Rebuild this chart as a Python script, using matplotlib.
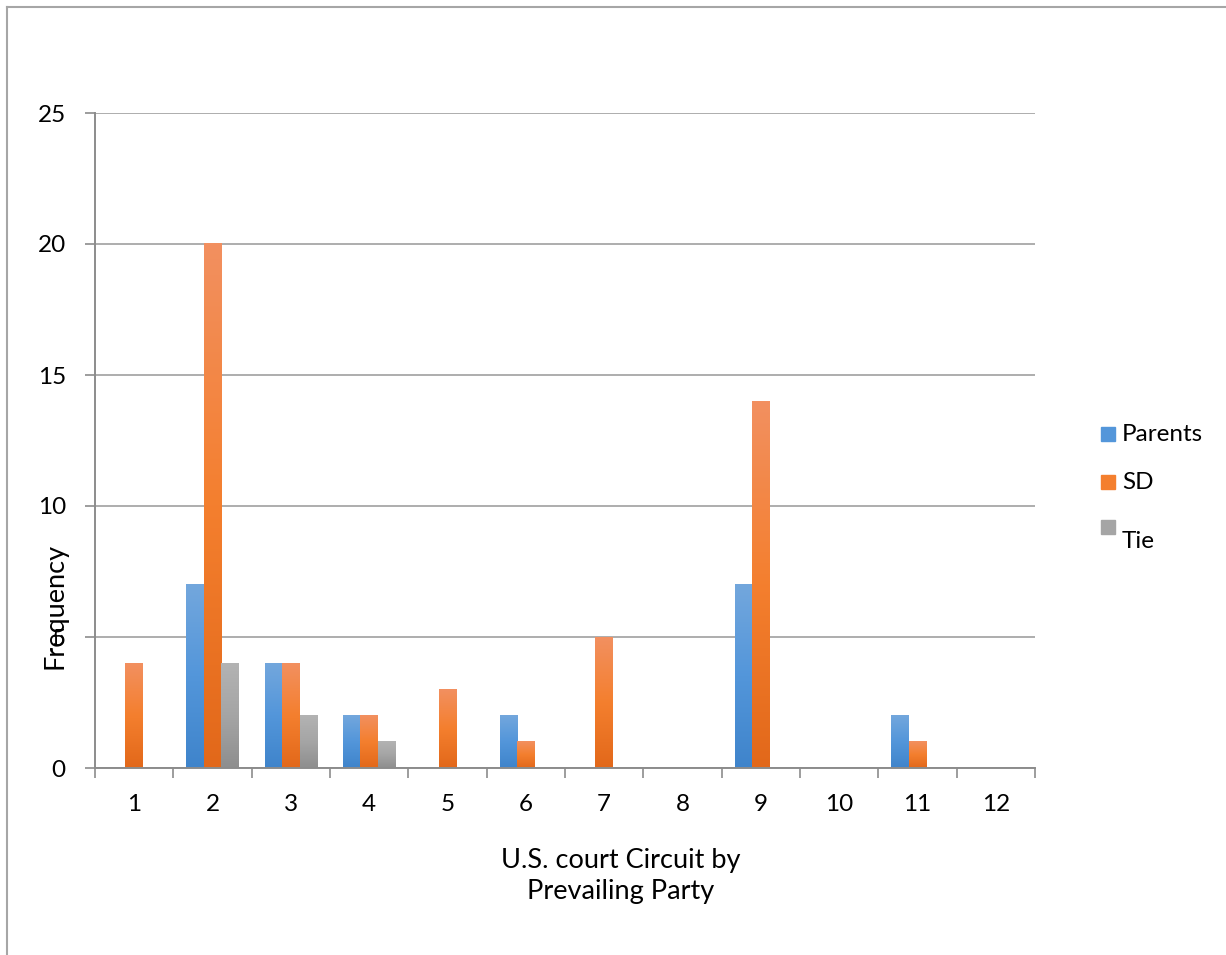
import matplotlib.pyplot as plt
import numpy as np
from matplotlib.colors import LinearSegmentedColormap
from matplotlib.lines import Line2D
from matplotlib.patches import Rectangle

plt.rcParams['font.family'] = ['Lato', 'DejaVu Sans']

circuits = ['1', '2', '3', '4', '5', '6', '7', '8', '9', '10', '11', '12']
parents = [0, 7, 4, 2, 0, 2, 0, 0, 7, 0, 2, 0]
sd = [4, 20, 4, 2, 3, 1, 5, 0, 14, 0, 1, 0]
tie = [0, 4, 2, 1, 0, 0, 0, 0, 0, 0, 0, 0]
series = [('Parents', parents), ('SD', sd), ('Tie', tie)]

# gradient stops per series: bottom -> middle -> top
grads = {
    'Parents': ['#3f84cb', '#5396da', '#73a7dd'],
    'SD': ['#e2681a', '#f47f2e', '#f29060'],
    'Tie': ['#8e8e8e', '#a5a5a5', '#b3b3b3'],
}
cmaps = {k: LinearSegmentedColormap.from_list(k, v) for k, v in grads.items()}

fig = plt.figure(figsize=(12.26, 9.55), dpi=100)
ax = fig.add_axes([95/1226, 1 - 768/955, 940/1226, 655/955])

x = np.arange(len(circuits))
w = 0.224
grad = np.linspace(0, 1, 256).reshape(-1, 1)
for i, (name, vals) in enumerate(series):
    for xi, v in zip(x, vals):
        if v <= 0:
            continue
        left = xi + (i - 1) * w - w / 2
        ax.imshow(grad, cmap=cmaps[name], origin='lower', aspect='auto',
                  extent=(left, left + w, 0, v), zorder=3, interpolation='bilinear')

ax.set_xlim(-0.5, len(circuits) - 0.5)
ax.set_ylim(0, 25)
ax.set_yticks([0, 5, 10, 15, 20, 25])
ax.set_xticks(x)
ax.set_xticklabels(circuits)
ax.set_xticks(np.arange(-0.5, len(circuits)), minor=True)
ax.tick_params(axis='x', which='major', length=0, pad=19, labelsize=17.5)
ax.tick_params(axis='x', which='minor', length=7, color='#8c8c8c', width=1.2)
ax.tick_params(axis='y', length=7, color='#8c8c8c', width=1.2, pad=14, labelsize=17.5)
ax.grid(axis='y', color='#a0a0a0', linewidth=1.2, zorder=0)
ax.set_axisbelow(True)
for s in ['top', 'right']:
    ax.spines[s].set_visible(False)
for s in ['left', 'bottom']:
    ax.spines[s].set_color('#8c8c8c')
    ax.spines[s].set_linewidth(1.4)
    ax.spines[s].set_zorder(4)

fig.text(55/1226, 1 - 606/955, 'Frequency', rotation=90, ha='center', va='center', fontsize=19.5)
fig.text(621/1226, 1 - 876/955, 'U.S. court Circuit by\nPrevailing Party', ha='center', va='center',
         fontsize=19.5, linespacing=1.3)

# legend drawn by hand
leg = [('Parents', 434, 434), ('SD', 482, 482), ('Tie', 527, 541)]
for name, ysq, ytx in leg:
    fig.patches.append(Rectangle((1101/1226, 1 - (ysq + 7)/955), 14/1226, 14/955,
                                 transform=fig.transFigure, color=cmaps[name](0.5)))
    fig.text(1122/1226, 1 - ytx/955, name, ha='left', va='center', fontsize=17.5)

# chart border
fig.add_artist(Line2D([7/1226, 1], [1 - 7/955, 1 - 7/955], color='#a6a6a6', lw=1.5))
fig.add_artist(Line2D([7/1226, 7/1226], [0, 1 - 7/955], color='#a6a6a6', lw=1.5))

fig.savefig('out.png', dpi=100)
